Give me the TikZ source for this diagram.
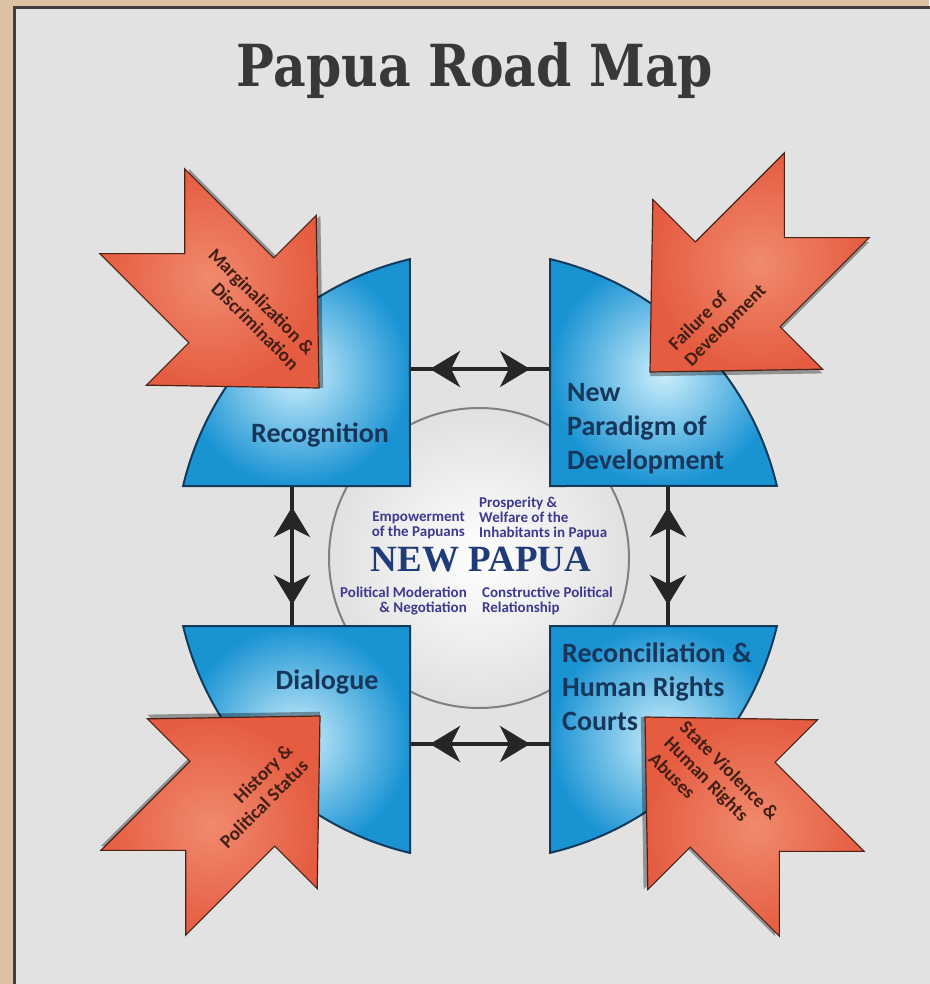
\documentclass[tikz,border=0pt]{standalone}
\usepackage{fontspec}
\setmainfont{Carlito}
\newfontfamily\titlefont{DejaVu Serif}
\newfontfamily\hubfont{Liberation Serif}
\usetikzlibrary{arrows.meta}

\definecolor{parchment}{HTML}{DCC2A2}
\definecolor{panel}{HTML}{E2E2E2}
\definecolor{pillarblue}{HTML}{1A93D3}
\definecolor{pillarglow}{HTML}{CDEFFC}
\definecolor{pillaredge}{HTML}{123A5A}
\definecolor{labelnavy}{HTML}{17375A}
\definecolor{threatred}{HTML}{E55C40}
\definecolor{threatglow}{HTML}{F08A6E}
\definecolor{threatedge}{HTML}{4A2218}
\definecolor{hubtext}{HTML}{3E3A8E}
\definecolor{hubtitle}{HTML}{1F3C78}

\tikzset{
  pillar/.style={inner color=pillarglow, outer color=pillarblue, draw=pillaredge, line width=2pt},
  pillarlabel/.style={inner sep=0pt, font=\bfseries\fontsize{28}{34}\selectfont, text=labelnavy},
  threatlabel/.style={inner sep=0pt, font=\bfseries\fontsize{19}{22}\selectfont, text=threatedge!90!black},
  hubnote/.style={inner sep=0pt, font=\bfseries\fontsize{15}{15}\selectfont, text=hubtext},
  link/.style={line width=4pt, black!85},
  linkhead/.style={line width=4pt, black!85,
    {Stealth[length=30pt,width=36pt,inset=9pt]}-{Stealth[length=30pt,width=36pt,inset=9pt]},
    shorten <=20pt, shorten >=20pt},
  pics/threat/.style={code={
    \fill[black, opacity=0.35] (3,-3) -- (-121,117) -- (-121,57) -- (-247,57) -- (-187,-3)
      -- (-247,-63) -- (-121,-63) -- (-121,-123) -- cycle;
    \shadedraw[inner color=threatglow, outer color=threatred, draw=threatedge, line width=1.2pt]
      (0,0) -- (-124,120) -- (-124,60) -- (-250,60) -- (-190,0) -- (-250,-60)
      -- (-124,-60) -- (-124,-120) -- cycle;
  }}
}

\begin{document}
\begin{tikzpicture}[x=1pt,y=-1pt]
  \useasboundingbox (0,0) rectangle (929,984);
  %BACKGROUND
  \fill[parchment] (0,0) rectangle (929,984);
  \fill[panel] (13,6) rectangle (935,990);
  \draw[black!75, line width=2.5pt] (14.5,990) -- (14.5,7.5) -- (935,7.5);

  %TITLE
  \node[font=\titlefont\bfseries\fontsize{58}{58}\selectfont, text=black!78, xscale=0.87] (title) at (475,71) {Papua Road Map};

  %HUB
  \node[circle, minimum size=300pt, inner color=white, outer color=black!12, draw=black!50, line width=2pt] (hub) at (479,558) {};

  %PILLARS
  \shadedraw[pillar] (410,486) -- (183.1,486) arc (193.27:256.73:305) -- cycle;
  \shadedraw[pillar] (550,486) -- (550,259.1) arc (283.27:346.73:305) -- cycle;
  \shadedraw[pillar] (410,626) -- (410,852.9) arc (103.27:166.73:305) -- cycle;
  \shadedraw[pillar] (550,626) -- (776.9,626) arc (13.27:76.73:305) -- cycle;

  %THREATS
  \pic[rotate=-45] at (319,388) {threat};
  \pic[rotate=-135] at (650,372) {threat};
  \pic[rotate=45] at (320,716) {threat};
  \pic[rotate=135] at (645,717) {threat};

  %LINK ENDS
  \coordinate (rec-e) at (410,369);
  \coordinate (dev-w) at (550,369);
  \coordinate (rec-s) at (292,487);
  \coordinate (dia-n) at (292,625);
  \coordinate (dev-s) at (668,487);
  \coordinate (hr-n) at (668,625);
  \coordinate (dia-e) at (410,744);
  \coordinate (hr-w) at (550,744);

  %EDGE
  \draw[link] (rec-e) -- (dev-w);
  \draw[linkhead] (rec-e) -- (dev-w);
  \draw[link] (rec-s) -- (dia-n);
  \draw[linkhead] (rec-s) -- (dia-n);
  \draw[link] (dev-s) -- (hr-n);
  \draw[linkhead] (dev-s) -- (hr-n);
  \draw[link] (dia-e) -- (hr-w);
  \draw[linkhead] (dia-e) -- (hr-w);

  %LABELS
  \node[pillarlabel] (rec) at (320,435) {Recognition};
  \node[pillarlabel, anchor=west, align=left] (dev) at (567,429) {New\\Paradigm of\\Development};
  \node[pillarlabel] (dia) at (327,682) {Dialogue};
  \node[pillarlabel, anchor=west, align=left] (hr) at (562,687) {Reconciliation \&\\Human Rights\\Courts};

  \node[threatlabel, rotate=-45, align=right] (marg) at (254,309) {Marginalization \&\\Discrimination};
  \node[threatlabel, rotate=45, align=left] (fail) at (718,318) {Failure of\\Development};
  \node[threatlabel, rotate=45, align=right] (hist) at (256,796) {History \&\\Political Status};
  \node[threatlabel, rotate=-45, align=left] (viol) at (714,786) {State Violence \&\\Human Rights\\Abuses};

  \node[hubnote, anchor=east, align=right] (emp) at (465,525) {Empowerment\\of the Papuans};
  \node[hubnote, anchor=west, align=left] (pros) at (479,518) {Prosperity \&\\Welfare of the\\Inhabitants in Papua};
  \node[inner sep=0pt, font=\hubfont\bfseries\fontsize{37}{37}\selectfont, text=hubtitle] (np) at (481,560) {NEW PAPUA};
  \node[hubnote, anchor=east, align=right] (mod) at (467,601) {Political Moderation\\\& Negotiation};
  \node[hubnote, anchor=west, align=left] (rel) at (482,601) {Constructive Political\\Relationship};
\end{tikzpicture}
\end{document}
